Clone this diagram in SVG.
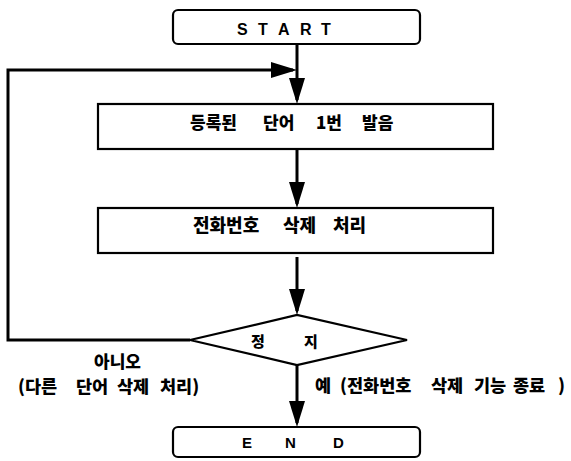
<svg xmlns="http://www.w3.org/2000/svg" width="571" height="461" viewBox="0 0 571 461">
<style>
.box{fill:#fff;stroke:#000;stroke-width:2.2}
.conn{fill:none;stroke:#000;stroke-width:3}
.t{font-family:"Liberation Sans","Noto Sans CJK KR",sans-serif;font-weight:bold;fill:#000}
.k{font-family:"Noto Sans CJK KR","Liberation Sans",sans-serif;font-weight:900;fill:#000}
</style>
<defs>
<marker id="ah" markerWidth="28" markerHeight="18" refX="22" refY="8" orient="auto" markerUnits="userSpaceOnUse">
<path d="M0,0 L26,8 L0,16 Z" fill="#000"/>
</marker>
</defs>
<rect width="571" height="461" fill="#fff"/>
<g id="connectors">
<path class="conn" d="M297,44 V100" marker-end="url(#ah)"/>
<path class="conn" d="M190,340 H8 V70 H293" marker-end="url(#ah)"/>
<path class="conn" d="M297,149 V204" marker-end="url(#ah)"/>
<path class="conn" d="M297,257 V311" marker-end="url(#ah)"/>
<path class="conn" d="M297,365 V423" marker-end="url(#ah)"/>
</g>
<g id="start">
<rect class="box" x="173" y="10" width="247" height="34" rx="5"/>
<text class="t" x="237 258 278 300 321" y="35" font-size="16">START</text>
</g>
<g id="step1">
<rect class="box" x="98" y="104" width="395" height="45"/>
<text class="k" y="129" font-size="17"><tspan x="190">등록된</tspan><tspan x="263">단어</tspan><tspan x="316">1번</tspan><tspan x="362">발음</tspan></text>
</g>
<g id="step2">
<rect class="box" x="98" y="208" width="395" height="45"/>
<text class="k" y="232" font-size="18"><tspan x="193">전화번호</tspan><tspan x="283">삭제</tspan><tspan x="333">처리</tspan></text>
</g>
<g id="decision">
<polygon class="box" points="190,340 297,315 407,340 297,365"/>
<text class="k" y="347" font-size="15"><tspan x="251">정</tspan><tspan x="304">지</tspan></text>
</g>
<g id="end">
<rect class="box" x="173" y="427" width="247" height="30" rx="5"/>
<text class="t" x="242 285 333" y="448" font-size="15">END</text>
</g>
<g id="labels">
<text class="k" x="94" y="368" font-size="17">아니오</text>
<text class="k" y="393" font-size="17.5"><tspan x="18">(다른</tspan><tspan x="76">단어</tspan><tspan x="117">삭제</tspan><tspan x="160">처리)</tspan></text>
<text class="k" y="392" font-size="17.5"><tspan x="315">예</tspan><tspan x="340">(전화번호</tspan><tspan x="431">삭제</tspan><tspan x="474">기능</tspan><tspan x="513">종료</tspan><tspan x="558">)</tspan></text>
</g>
</svg>
